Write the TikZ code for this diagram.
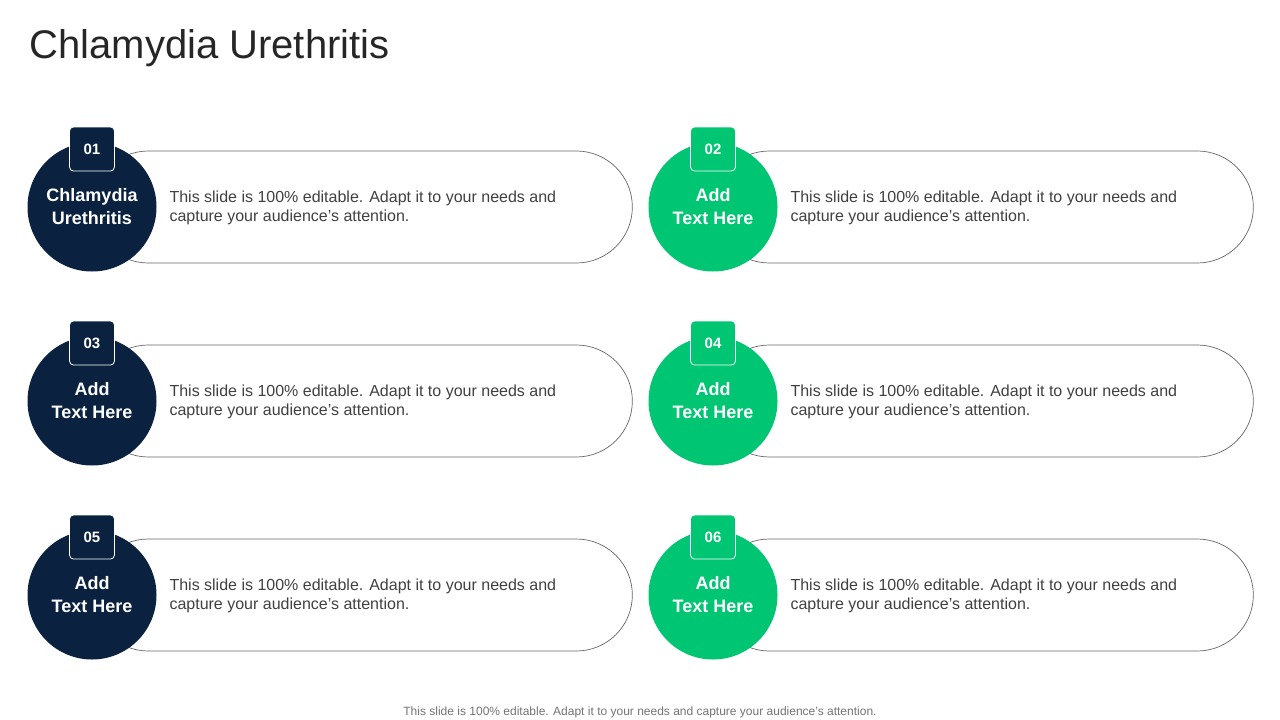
\documentclass[tikz,border=0pt]{standalone}
\usepackage{fontspec}
\setmainfont{Liberation Sans}
\definecolor{navy}{HTML}{0A2240}
\definecolor{grn}{HTML}{00C573}
\definecolor{txt}{HTML}{404040}
\begin{document}
\begin{tikzpicture}[x=1pt,y=-1pt,
  pill/.style={draw=txt!80,line width=0.7pt,rounded corners=56pt,minimum width=540pt,minimum height=112pt,anchor=west,inner sep=0},
  disc/.style={circle,minimum size=129pt,inner sep=0,text=white,font=\bfseries\fontsize{18}{23}\selectfont,align=center},
  badge/.style={draw=white,line width=0.8pt,rounded corners=4pt,minimum width=45pt,minimum height=44pt,text=white,font=\bfseries\fontsize{15}{18}\selectfont},
  body/.style={anchor=west,text=txt,font=\fontsize{16}{19}\selectfont,align=left}]
\useasboundingbox (0,0) rectangle (1280,720);
\node[anchor=west,font=\fontsize{40}{48}\selectfont,text=black!85] (title) at (26,48) {Chlamydia Urethritis};
\foreach \i/\c/\lab/\col/\row in {1/navy/{Chlamydia\\Urethritis}/0/0,2/grn/{Add\\Text Here}/1/0,3/navy/{Add\\Text Here}/0/1,4/grn/{Add\\Text Here}/1/1,5/navy/{Add\\Text Here}/0/2,6/grn/{Add\\Text Here}/1/2}{
  \pgfmathsetmacro\xx{\col*621}
  \pgfmathsetmacro\yy{\row*194}
  \node[pill] (p\i) at (\xx+92,\yy+207) {};
  \node[disc,fill=\c] (c\i) at (\xx+92,\yy+207) {\lab};
  \node[badge,fill=\c] (b\i) at (\xx+92,\yy+149) {0\i};
  \node[body] (t\i) at (\xx+166,\yy+208) {This slide is 100\% editable. Adapt it to your needs and\\capture your audience's attention.};
}
\node[text=black!55,font=\fontsize{12}{14}\selectfont] (foot) at (640,712) {This slide is 100\% editable. Adapt it to your needs and capture your audience's attention.};
\end{tikzpicture}
\end{document}
